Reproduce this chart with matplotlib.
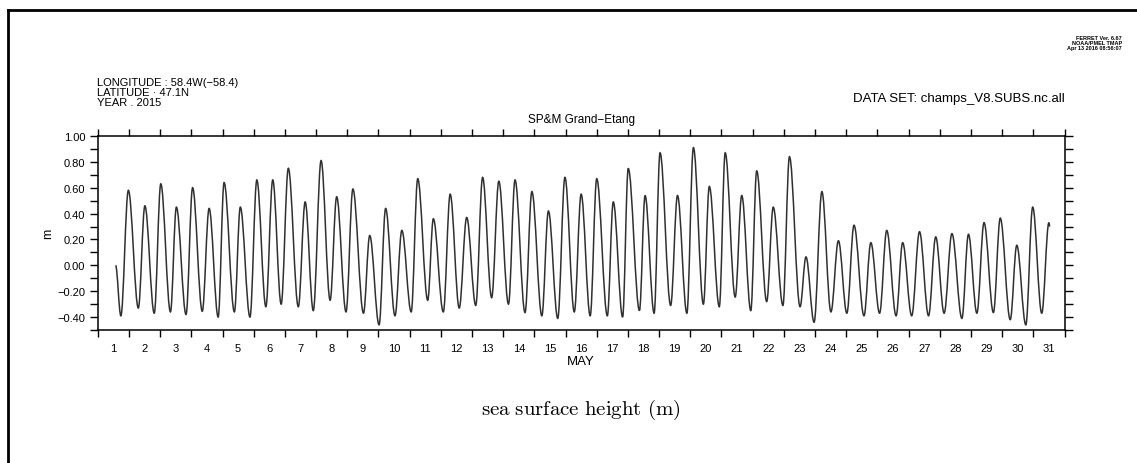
import numpy as np
import matplotlib
matplotlib.use("Agg")
import matplotlib.pyplot as plt
from matplotlib.lines import Line2D
from matplotlib.path import Path
from matplotlib.patches import PathPatch
from matplotlib.ticker import MultipleLocator, FixedLocator, FuncFormatter

# sea surface height turning points (days since May 1 00:00, metres)
days = [0.57, 0.74, 0.98, 1.30, 1.51, 1.81, 2.02, 2.33, 2.52, 2.83, 3.04, 3.35,
        3.57, 3.86, 4.05, 4.38, 4.57, 4.88, 5.10, 5.39, 5.61, 5.88, 6.11, 6.43,
        6.65, 6.91, 7.16, 7.45, 7.66, 7.96, 8.18, 8.52, 8.72, 9.02, 9.23, 9.53,
        9.75, 10.05, 10.26, 10.58, 10.76, 11.08, 11.30, 11.59, 11.83, 12.12,
        12.34, 12.63, 12.86, 13.17, 13.38, 13.70, 13.92, 14.24, 14.45, 14.75,
        14.98, 15.28, 15.50, 15.79, 16.00, 16.34, 16.53, 16.83, 17.01, 17.37,
        17.55, 17.84, 18.03, 18.37, 18.59, 18.89, 19.10, 19.42, 19.61, 19.93,
        20.12, 20.44, 20.65, 20.94, 21.13, 21.45, 21.66, 21.97, 22.18, 22.52,
        22.71, 22.97, 23.22, 23.51, 23.75, 24.02, 24.25, 24.57, 24.79, 25.07,
        25.30, 25.60, 25.81, 26.10, 26.35, 26.64, 26.87, 27.14, 27.39, 27.71,
        27.92, 28.19, 28.42, 28.72, 28.94, 29.26, 29.47, 29.76, 29.98, 30.27,
        30.50, 30.53]
ssh = [0.00, -0.39, 0.58, -0.33, 0.46, -0.37, 0.63, -0.36, 0.45, -0.38, 0.60, -0.355,
       0.44, -0.40, 0.64, -0.36, 0.45, -0.40, 0.66, -0.32, 0.66, -0.30, 0.75, -0.32,
       0.49, -0.35, 0.81, -0.27, 0.53, -0.36, 0.59, -0.37, 0.23, -0.46, 0.44, -0.39,
       0.27, -0.36, 0.67, -0.27, 0.36, -0.36, 0.55, -0.33, 0.37, -0.31,
       0.68, -0.25, 0.65, -0.30, 0.66, -0.365, 0.57, -0.39, 0.42, -0.41,
       0.68, -0.36, 0.55, -0.39, 0.67, -0.39, 0.49, -0.40, 0.75, -0.35,
       0.54, -0.37, 0.87, -0.31, 0.54, -0.37, 0.91, -0.30, 0.61, -0.32,
       0.87, -0.245, 0.54, -0.35, 0.73, -0.28, 0.45, -0.31, 0.84, -0.32,
       0.065, -0.44, 0.57, -0.36, 0.19, -0.37, 0.31, -0.39, 0.175, -0.37,
       0.27, -0.39, 0.175, -0.39, 0.26, -0.39, 0.22, -0.37, 0.245, -0.41,
       0.24, -0.37, 0.33, -0.365, 0.365, -0.42, 0.155, -0.46, 0.45, -0.37,
       0.33, 0.30]
day_labels = [str(d) for d in range(1, 32)]
month_label = "MAY"

W, H = 1137, 464
fig = plt.figure(figsize=(W / 100, H / 100), dpi=100)
plt.rcParams["mathtext.fontset"] = "cm"
sans = ["Liberation Sans", "DejaVu Sans"]

x0, x1 = 97.8, 1064.5
y_top, y_bot = 137, 331
ax = fig.add_axes([x0 / W, 1 - y_bot / H, (x1 - x0) / W, (y_bot - y_top) / H])

# tide curve: smooth half-waves between the turning points (flat tangent at each one)
verts = [(days[0], ssh[0])]
codes = [Path.MOVETO]
for i in range(len(days) - 1):
    dx = days[i + 1] - days[i]
    verts += [(days[i] + 0.36 * dx, ssh[i]), (days[i + 1] - 0.36 * dx, ssh[i + 1]),
              (days[i + 1], ssh[i + 1])]
    codes += [Path.CURVE4] * 3
ax.add_patch(PathPatch(Path(verts, codes), facecolor="none", edgecolor="#303030", lw=1.1))

ax.set_xlim(0, 31)
ax.set_ylim(-0.5, 1.0)
ax.yaxis.set_major_locator(FixedLocator(np.arange(-0.4, 1.01, 0.2)))
ax.yaxis.set_minor_locator(MultipleLocator(0.1))
ax.yaxis.set_major_formatter(FuncFormatter(lambda v, p: f"{v:.2f}".replace("-", "\u2212")))
ax.xaxis.set_major_locator(MultipleLocator(1))
ax.tick_params(axis="x", which="major", direction="out", length=5, width=1,
               top=True, bottom=True, labelbottom=False)
ax.tick_params(axis="y", which="both", direction="out", length=6, width=1,
               left=True, right=True, labelsize=8, pad=3)
for lbl in ax.get_yticklabels():
    lbl.set_family(sans)
for s in ax.spines.values():
    s.set_linewidth(1.1)

for i, lab in enumerate(day_labels):
    ax.text(i + 0.5, -0.6, lab, ha="center", va="top", fontsize=8, family=sans)
ax.text(15.5, -0.69, month_label, ha="center", va="top", fontsize=9.5, family=sans)
ax.set_ylabel("m", fontsize=9, family=sans, labelpad=2)

# header texts
fig.text(97 / W, 1 - 78 / H, "LONGITUDE : 58.4W(\u221258.4)\nLATITUDE \u00b7 47.1N\nYEAR . 2015",
         ha="left", va="top", fontsize=8, family=sans, linespacing=1.0)
fig.text(x1 / W, 1 - 99 / H, "DATA SET: champs_V8.SUBS.nc.all", ha="right", va="center",
         fontsize=9.5, family=sans)
fig.text(1122 / W, 1 - 36 / H, "FERRET Ver. 6.67\nNOAA/PMEL TMAP\nApr 13 2016 08:56:07",
         ha="right", va="top", fontsize=4, family=sans, fontweight="bold", linespacing=1.0)
fig.text((x0 + x1) / 2 / W, 1 - 120 / H, "SP&M Grand\u2212Etang", ha="center", va="center",
         fontsize=8.5, family=sans)
fig.text((x0 + x1) / 2 / W, 1 - 410 / H, r"$\mathrm{sea\ surface\ height\ (m)}$",
         ha="center", va="center", fontsize=15)

# outer frame (only left and top edges are visible)
fig.add_artist(Line2D([8 / W, 8 / W], [0, 1 - 11 / H], transform=fig.transFigure,
                      color="black", lw=2))
fig.add_artist(Line2D([8 / W, 1], [1 - 11 / H, 1 - 11 / H], transform=fig.transFigure,
                      color="black", lw=2))

fig.savefig("out.png", dpi=100)
